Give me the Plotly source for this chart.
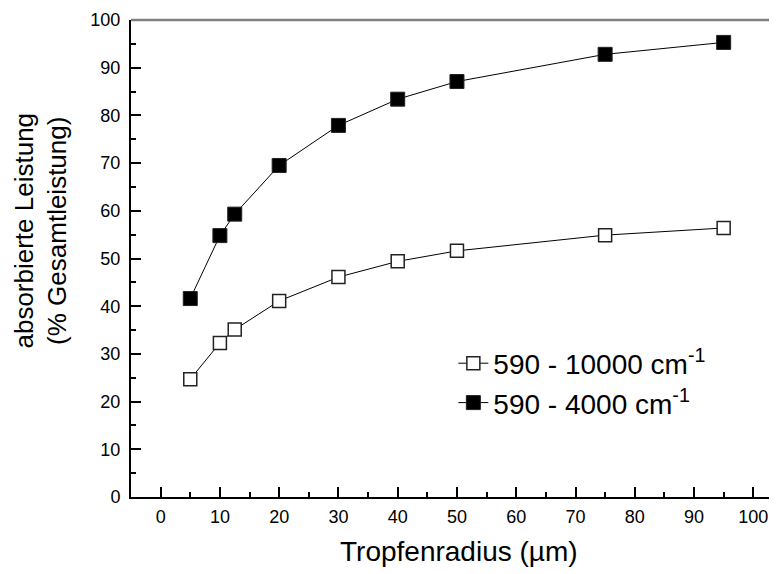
import plotly.graph_objects as go

radius = [5, 10, 12.5, 20, 30, 40, 50, 75, 95]
leistung_10000 = [24.7, 32.3, 35.1, 41.1, 46.1, 49.4, 51.6, 54.9, 56.4]
leistung_4000 = [41.6, 54.8, 59.3, 69.5, 77.9, 83.4, 87.1, 92.8, 95.3]
name_10000 = "590 - 10000 cm<sup>-1</sup>"
name_4000 = "590 - 4000 cm<sup>-1</sup>"
x_ticks = [0, 10, 20, 30, 40, 50, 60, 70, 80, 90, 100]
y_ticks = [0, 10, 20, 30, 40, 50, 60, 70, 80, 90, 100]

FONT = "Liberation Sans, Arial, sans-serif"

fig = go.Figure()
fig.add_trace(go.Scatter(
    x=radius, y=leistung_10000, name=name_10000, mode="lines+markers",
    line=dict(color="black", width=1),
    marker=dict(symbol="square", size=13, color="white",
                line=dict(color="#222222", width=1.5)),
    legendgroup="a",
))
fig.add_trace(go.Scatter(
    x=radius, y=leistung_4000, name=name_4000, mode="lines+markers",
    line=dict(color="black", width=1),
    marker=dict(symbol="square", size=14, color="black",
                line=dict(color="#222222", width=1)),
    legendgroup="b",
))

fig.update_layout(
    width=769, height=566,
    margin=dict(l=123, r=0, t=12, b=77, autoexpand=False),
    paper_bgcolor="white", plot_bgcolor="white",
    font=dict(family=FONT, color="black"),
    showlegend=True,
    legend=dict(
        x=0.499, y=0.239, xanchor="left", yanchor="middle",
        font=dict(size=28, family=FONT, color="black"),
        bgcolor="rgba(0,0,0,0)", tracegroupgap=16,
        traceorder="normal",
    ),
    xaxis=dict(
        range=[-5, 104], tickvals=x_ticks, ticktext=[str(v) for v in x_ticks],
        showgrid=False, zeroline=False, automargin=False,
        showline=True, linecolor="black", linewidth=2,
        ticks="inside", ticklen=10, tickwidth=2, tickcolor="black",
        minor=dict(dtick=5, tick0=0, ticks="inside", ticklen=5, tickwidth=2, tickcolor="black"),
        tickfont=dict(size=18, family=FONT), ticklabelstandoff=2,
    ),
    yaxis=dict(
        range=[0, 100], tickvals=y_ticks, ticktext=[str(v) for v in y_ticks],
        showgrid=False, zeroline=False, automargin=False,
        showline=True, linecolor="black", linewidth=2,
        ticks="inside", ticklen=10, tickwidth=2, tickcolor="black",
        minor=dict(dtick=5, tick0=0, ticks="inside", ticklen=5, tickwidth=2, tickcolor="black"),
        tickfont=dict(size=18, family=FONT), ticklabelstandoff=5,
    ),
    shapes=[dict(type="line", xref="paper", yref="paper", x0=0, x1=1, y0=1, y1=1,
                 line=dict(color="#808080", width=2.5))],
    annotations=[
        dict(text="Tropfenradius (µm)", xref="paper", yref="paper",
             x=0.507, y=-0.1153, xanchor="center", yanchor="middle",
             showarrow=False, font=dict(size=28, family=FONT, color="black")),
        dict(text="absorbierte Leistung<br>(% Gesamtleistung)", xref="paper", yref="paper",
             x=-0.1400, y=0.5577, xanchor="center", yanchor="middle", textangle=-90,
             showarrow=False, font=dict(size=26, family=FONT, color="black")),
    ],
)

fig.write_html("out.html")
